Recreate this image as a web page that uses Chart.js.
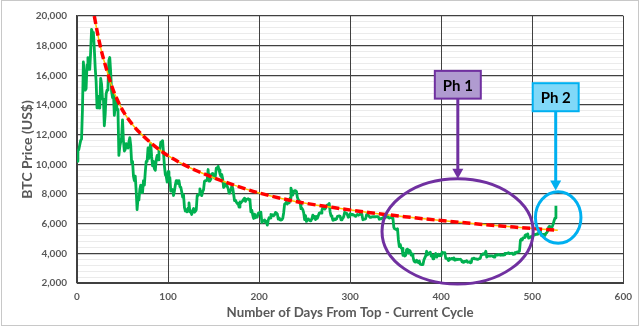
<!DOCTYPE html>
<html>
<head>
<meta charset="utf-8">
<script src="https://cdn.jsdelivr.net/npm/chart.js@4"></script>
<style>
  html, body { margin: 0; padding: 0; background: #fff; }
  canvas { display: block; }
</style>
</head>
<body>
<canvas id="chart" width="640" height="327"></canvas>
<script>
// daily BTC closes (US$), one array per month, day 0 = 1 Dec 2017
var dec2017 = [10200, 10900, 11000, 11300, 11600, 11700, 13700, 16900, 16100, 15000, 15100, 16700, 17200, 16400, 16400, 17600,
  19100, 18900, 18900, 17800, 16500, 15600, 13800, 14600, 13900, 13800, 15800, 15400, 14400, 14400, 12600];
var jan2018 = [13400, 14750, 15000, 15200, 17000, 17200, 16200, 14900, 14500, 14900, 13300, 13900, 14400, 13700, 13600, 10600,
  11200, 11500, 11800, 13000, 11600, 10900, 11000, 11400, 11200, 11100, 11500, 11800, 11300, 10100, 10200];
var feb2018 = [9200, 8900, 9200, 8200, 6950, 7700, 7600, 8300, 8600, 8100, 8100, 8900, 8600, 9500, 10200, 10200,
  11100, 10400, 11100, 11400, 10500, 9900, 10200, 9700, 9600, 10300, 10600, 10300];
var mar2018 = [11000, 11000, 11500, 11500, 11600, 10800, 9900, 9300, 9200, 8800, 9500, 9100, 9100, 8200, 8250, 8300,
  7900, 8200, 8600, 8900, 8900, 8700, 8900, 8500, 8450, 8150, 7800, 7950, 7100, 6850, 6930];
var apr2018 = [6800, 7050, 7400, 6800, 6780, 6620, 6900, 7020, 6770, 6830, 6940, 7900, 7890, 8000, 8350, 8050,
  7890, 8160, 8290, 8850, 8900, 8900, 8940, 9650, 8870, 9280, 8980, 9350, 9390, 9240];
var may2018 = [9070, 9220, 9740, 9700, 9860, 9620, 9370, 9190, 9320, 9020, 8440, 8500, 8730, 8700, 8510, 8370,
  8060, 8240, 8240, 8530, 8400, 8000, 7560, 7580, 7460, 7350, 7360, 7110, 7470, 7400, 7490];
var jun2018 = [7540, 7640, 7720, 7500, 7630, 7650, 7680, 7620, 7530, 6790, 6900, 6580, 6350, 6640, 6400, 6500,
  6450, 6710, 6740, 6770, 6720, 6080, 6160, 6170, 6250, 6090, 6160, 5900, 6220, 6400];
var jul2018 = [6380, 6620, 6530, 6600, 6530, 6600, 6760, 6720, 6660, 6310, 6390, 6250, 6240, 6270, 6360, 6740,
  7320, 7370, 7470, 7330, 7400, 7400, 7720, 8400, 8170, 7930, 8180, 8230, 8220, 8180, 7780];
var aug2018 = [7620, 7540, 7420, 7010, 7040, 6940, 6720, 6280, 6540, 6150, 6240, 6320, 6260, 6190, 6270, 6310,
  6580, 6400, 6490, 6270, 6480, 6360, 6530, 6700, 6740, 6710, 6910, 7090, 7030, 6980, 7040];
var sep2018 = [7190, 7270, 7260, 7360, 6790, 6530, 6470, 6230, 6240, 6320, 6280, 6320, 6490, 6500, 6520, 6500,
  6250, 6330, 6360, 6490, 6770, 6720, 6710, 6590, 6430, 6460, 6680, 6630, 6590, 6620];
var oct2018 = [6590, 6530, 6490, 6580, 6620, 6570, 6600, 6660, 6630, 6590, 6260, 6290, 6300, 6330, 6600, 6600,
  6570, 6480, 6420, 6430, 6460, 6470, 6460, 6480, 6460, 6470, 6480, 6450, 6300, 6340, 6320];
var nov2018 = [6380, 6400, 6380, 6490, 6420, 6460, 6530, 6410, 6370, 6410, 6410, 6370, 6360, 5740, 5650, 5620,
  5590, 5660, 4900, 4450, 4600, 4360, 4330, 3870, 4010, 3820, 3860, 4260, 4280, 4020];
var dec2018 = [4210, 4140, 3880, 3950, 3770, 3510, 3420, 3410, 3540, 3420, 3370, 3480, 3270, 3240, 3240, 3250,
  3550, 3690, 3830, 4140, 3900, 4010, 3980, 4080, 3810, 3870, 3630, 3880, 3800, 3990, 3740];
var jan2019 = [3840, 3940, 3840, 3860, 3840, 4080, 4030, 4030, 4040, 3660, 3660, 3620, 3510, 3660, 3590, 3630,
  3660, 3600, 3700, 3540, 3560, 3610, 3580, 3600, 3590, 3600, 3560, 3430, 3400, 3460, 3430];
var feb2019 = [3460, 3500, 3400, 3410, 3430, 3360, 3380, 3650, 3650, 3680, 3620, 3630, 3610, 3590, 3620, 3640,
  3670, 3880, 3910, 3970, 3930, 3990, 4140, 3750, 3830, 3810, 3820, 3820];
var mar2019 = [3830, 3830, 3780, 3740, 3870, 3880, 3890, 3880, 3920, 3900, 3870, 3890, 3880, 3880, 3900, 4000,
  3980, 3990, 4010, 4040, 3980, 3990, 4000, 4010, 3930, 3950, 4040, 4030, 4080, 4090, 4110];
var apr2019 = [4140, 4880, 4970, 4900, 5040, 5060, 5200, 5260, 5160, 5310, 5020, 5080, 5070, 5150, 5040, 5200,
  5240, 5280, 5270, 5310, 5280, 5400, 5530, 5460, 5210, 5280, 5280, 5270, 5210, 5350];
var may2019 = [5400, 5500, 5760, 5830, 5750, 5700, 5800, 5970, 6200, 6380, 7200];

// power-law style trend
var trendDays = [19, 23, 27, 32, 38, 45, 53, 62, 72, 84, 97, 112, 130, 150, 175, 200, 240, 280, 320, 360, 400, 440, 480, 528];
var trendValues = [20000, 18700, 17600, 16500, 15300, 14250, 13350, 12600, 11950, 11300, 10700, 10150, 9600, 9100, 8550, 8070,
  7500, 7100, 6760, 6470, 6210, 5980, 5770, 5550];

var xTicks = [0, 100, 200, 300, 400, 500, 600];
var phaseLabels = ['Ph 1', 'Ph 2'];

var months = [dec2017, jan2018, feb2018, mar2018, apr2018, may2018, jun2018, jul2018, aug2018, sep2018, oct2018, nov2018,
  dec2018, jan2019, feb2019, mar2019, apr2019, may2019];
var closes = [].concat.apply([], months);
var pricePoints = closes.map(function (v, d) { return { x: d, y: v }; });
var trendPoints = trendDays.map(function (d, i) { return { x: d, y: trendValues[i] }; });

// phase markers, all in data units (days / US$)
var phases = [
  { text: phaseLabels[0], stroke: '#7030a0', fill: '#b09bd0', box: [393, 443.5, 16300, 14430], tip: 9030, ring: [418, 5480, 83, 3550] },
  { text: phaseLabels[1], stroke: '#00b0f0', fill: '#80d8f8', box: [500.5, 551, 15470, 13580], tip: 8230, ring: [528.5, 6420, 25, 1740] }
];

var phasePlugin = {
  id: 'phases',
  afterDatasetsDraw: function (chart) {
    var c = chart.ctx, xs = chart.scales.x, ys = chart.scales.y;
    phases.forEach(function (p) {
      var cx = xs.getPixelForValue(p.ring[0]), cy = ys.getPixelForValue(p.ring[1]);
      var rx = xs.getPixelForValue(p.ring[0] + p.ring[2]) - cx;
      var ry = cy - ys.getPixelForValue(p.ring[1] + p.ring[3]);
      c.save();
      c.strokeStyle = p.stroke;
      c.lineWidth = 3;
      c.beginPath();
      c.ellipse(cx, cy, rx, ry, 0, 0, Math.PI * 2);
      c.stroke();

      var bx0 = xs.getPixelForValue(p.box[0]), bx1 = xs.getPixelForValue(p.box[1]);
      var by0 = ys.getPixelForValue(p.box[2]), by1 = ys.getPixelForValue(p.box[3]);
      var ax = (bx0 + bx1) / 2, tipY = ys.getPixelForValue(p.tip);

      // arrow
      c.fillStyle = p.stroke;
      c.beginPath();
      c.moveTo(ax, by1);
      c.lineTo(ax, tipY - 8);
      c.stroke();
      c.beginPath();
      c.moveTo(ax - 5.5, tipY - 10);
      c.lineTo(ax + 5.5, tipY - 10);
      c.lineTo(ax, tipY);
      c.closePath();
      c.fill();

      // label box
      c.fillStyle = p.fill;
      c.fillRect(bx0, by0, bx1 - bx0, by1 - by0);
      c.lineWidth = 2;
      c.strokeRect(bx0, by0, bx1 - bx0, by1 - by0);
      c.fillStyle = '#000';
      c.font = 'bold 15px Lato';
      c.textAlign = 'center';
      c.textBaseline = 'middle';
      c.fillText(p.text, ax, (by0 + by1) / 2 + 1);
      c.restore();
    });
  },
  afterDraw: function (chart) {
    var c = chart.ctx;
    c.save();
    c.strokeStyle = '#c8c8c8';
    c.lineWidth = 1;
    c.strokeRect(1.5, 0.5, 637, 325);
    c.restore();
  }
};

var ctx = document.getElementById('chart').getContext('2d');
var myChart = new Chart(ctx, {
  type: 'line',
  data: {
    datasets: [{
      data: trendPoints,
      borderColor: '#ff0000',
      borderWidth: 3.5,
      borderDash: [8, 4],
      cubicInterpolationMode: 'monotone',
      pointRadius: 0,
      order: 1
    }, {
      data: trendPoints,
      borderColor: '#ffc000',
      borderWidth: 1.5,
      cubicInterpolationMode: 'monotone',
      pointRadius: 0,
      order: 2
    }, {
      data: pricePoints,
      borderColor: '#00b050',
      borderWidth: 2.8,
      borderJoinStyle: 'round',
      pointRadius: 0,
      tension: 0,
      order: 3
    }]
  },
  options: {
    responsive: false,
    animation: false,
    layout: { padding: { top: 14, right: 15, bottom: 0, left: 0 } },
    plugins: { legend: { display: false }, tooltip: { enabled: false } },
    scales: {
      x: {
        type: 'linear',
        min: 0,
        max: 600,
        afterFit: function (s) { s.height = 44; },
        afterBuildTicks: function (s) { s.ticks = xTicks.map(function (v) { return { value: v }; }); },
        ticks: { color: '#595959', font: { family: 'Lato', size: 10, weight: 'bold' }, padding: 8 },
        grid: { color: '#404040', lineWidth: 1, drawTicks: false },
        border: { color: '#404040', width: 1 },
        title: {
          display: true,
          text: 'Number of Days From Top - Current Cycle',
          color: '#595959',
          font: { family: 'Lato', size: 13.3, weight: 'bold' },
          padding: { top: 0, bottom: 6 }
        }
      },
      y: {
        min: 2000,
        max: 20000,
        afterFit: function (s) { s.width = 77; },
        ticks: {
          stepSize: 400,
          autoSkip: false,
          color: '#595959',
          font: { family: 'Lato', size: 10, weight: 'bold' },
          padding: 10,
          callback: function (v) { return v % 2000 === 0 ? v.toLocaleString('en-US') : ''; }
        },
        grid: {
          z: -2, // horizontal grid goes underneath so the vertical lines stay solid
          drawTicks: false,
          color: function (c) { return c.tick.value % 2000 === 0 ? '#404040' : '#ebebeb'; },
          lineWidth: function (c) { return c.tick.value % 2000 === 0 ? 1.2 : 1; }
        },
        border: { color: '#404040', width: 1.2 },
        title: {
          display: true,
          text: 'BTC Price (US$)',
          color: '#595959',
          font: { family: 'Lato', size: 14, weight: 'bold' },
          padding: { top: 19, bottom: 0 }
        }
      }
    }
  },
  plugins: [phasePlugin]
});
</script>
</body>
</html>
